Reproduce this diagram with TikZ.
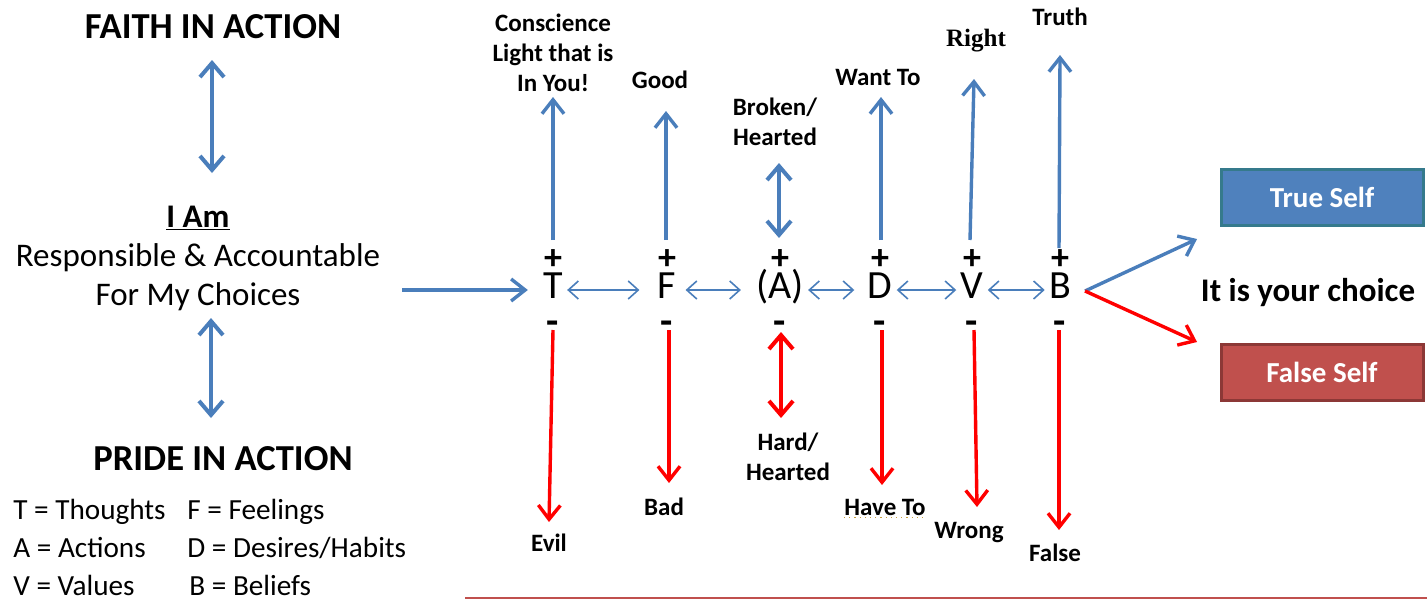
\documentclass[tikz,border=0pt]{standalone}
\usepackage{fontspec}
\setmainfont{Carlito}
\newfontfamily\rightfont{Liberation Serif}
\usepackage{tikz}
\usetikzlibrary{arrows.meta}
\definecolor{arrblue}{HTML}{4A7EBB}
\definecolor{selfblue}{HTML}{4F81BD}
\definecolor{selfblueedge}{HTML}{357A8C}
\definecolor{selfred}{HTML}{C0504D}
\definecolor{selfrededge}{HTML}{8C3836}
\definecolor{squiggle}{HTML}{C8A040}

\begin{document}
\begin{tikzpicture}[x=0.5pt,y=-0.5pt,
	upblue/.style={draw=arrblue, line width=1.7pt, -{Straight Barb[length=7pt,width=11pt]}},
	downred/.style={draw=red, line width=1.7pt, -{Straight Barb[length=7pt,width=11pt]}},
	twoway/.style={line width=2pt, {Straight Barb[length=7pt,width=12pt]}-{Straight Barb[length=7pt,width=12pt]}},
	link/.style={draw=arrblue, line width=0.8pt, {Straight Barb[length=5pt,width=9pt]}-{Straight Barb[length=5pt,width=9pt]}},
	word/.style={font=\bfseries\fontsize{12.5}{15}\selectfont, inner sep=0pt, align=center},
	heading/.style={font=\bfseries\fontsize{18.3}{22}\selectfont, inner sep=0pt},
	letter/.style={font=\fontsize{20}{24}\selectfont, text height=8pt, text depth=0pt, inner xsep=2pt, inner ysep=0pt},
	possign/.style={font=\bfseries\fontsize{18}{20}\selectfont, inner sep=0pt, anchor=base},
	negsign/.style={font=\bfseries\fontsize{20}{22}\selectfont, inner sep=0pt, anchor=base},
	legend/.style={font=\fontsize{14.6}{18}\selectfont, inner sep=0pt, anchor=base west},
	selfbox/.style={minimum width=101pt, minimum height=28pt, line width=1.5pt, text=white, font=\bfseries\fontsize{14.5}{17}\selectfont}]
	\useasboundingbox (0,0) rectangle (1427,600);
	% left column
	\node[heading] (faith) at (213,27) {FAITH IN ACTION};
	\node[font=\fontsize{16.5}{19.5}\selectfont, align=center, inner sep=0pt] (iam) at (198,258) {\underline{\textbf{I Am}}\\Responsible \& Accountable\\For My Choices};
	\node[heading] (pride) at (223,459) {PRIDE IN ACTION};
	\coordinate (F0) at (212,60);
	\coordinate (F1) at (212,173);
	\coordinate (P0) at (211,318);
	\coordinate (P1) at (211,418);
	\draw[twoway, arrblue] (F0) -- (F1);
	\draw[twoway, arrblue] (P0) -- (P1);
	\node[legend] (lgT) at (13,519) {T = Thoughts};
	\node[legend] (lgF) at (187,519) {F = Feelings};
	\node[legend] (lgA) at (13,557) {A = Actions};
	\node[legend] (lgD) at (187,557) {D = Desires/Habits};
	\node[legend] (lgV) at (13,595) {V = Values};
	\node[legend] (lgB) at (189,595) {B = Beliefs};
	% the row of letters
	\node[letter] (T) at (553,290) {T};
	\node[letter] (F) at (667,290) {F};
	\node[letter] (A) at (780,290) {(A)};
	\node[letter] (D) at (880,290) {D};
	\node[letter] (V) at (972,290) {V};
	\node[letter] (B) at (1060,290) {B};
	\node[possign] (pT) at (553,269) {+};
	\node[possign] (pF) at (667,269) {+};
	\node[possign] (pA) at (780,269) {+};
	\node[possign] (pD) at (880,269) {+};
	\node[possign] (pV) at (972,269) {+};
	\node[possign] (pB) at (1060,269) {+};
	\node[negsign] (mT) at (553,334) {-};
	\node[negsign] (mF) at (667,334) {-};
	\node[negsign] (mA) at (780,334) {-};
	\node[negsign] (mD) at (880,334) {-};
	\node[negsign] (mV) at (972,334) {-};
	\node[negsign] (mB) at (1060,334) {-};
	\coordinate (in0) at (402,290);
	\draw[upblue, shorten >=5.5pt] (in0) -- (T);
	\draw[link, shorten >=7pt] (T) -- (F);
	\draw[link, shorten <=2.5pt, shorten >=5.5pt] (F) -- (A);
	\draw[link, shorten >=4.5pt] (A) -- (D);
	\draw[link] (D) -- (V);
	\draw[link] (V) -- (B);
	% upper words
	\node[word] (cT) at (553,53) {Conscience\\Light that is\\In You!};
	\node[word, anchor=base] (cF) at (660,88) {Good};
	\node[word] (cA) at (775,122) {Broken/\\Hearted};
	\node[word, anchor=base] (cD) at (878,85) {Want To};
	\node[word, anchor=base, font=\rightfont\bfseries\fontsize{12.5}{15}\selectfont] (cV) at (976,46) {Right};
	\node[word, anchor=base] (cB) at (1060,25) {Truth};
	\coordinate (Tup0) at (553,240);
	\coordinate (Tup1) at (553,97);
	\coordinate (Fup0) at (666,240);
	\coordinate (Fup1) at (666,111);
	\coordinate (Aup0) at (779,238);
	\coordinate (Aup1) at (779,163);
	\coordinate (Dup0) at (881,240);
	\coordinate (Dup1) at (881,97);
	\coordinate (Vup0) at (970,240);
	\coordinate (Vup1) at (974,79);
	\coordinate (Bup0) at (1059,248);
	\coordinate (Bup1) at (1060,55);
	\draw[upblue] (Tup0) -- (Tup1);
	\draw[upblue] (Fup0) -- (Fup1);
	\draw[twoway, arrblue] (Aup0) -- (Aup1);
	\draw[upblue] (Dup0) -- (Dup1);
	\draw[upblue] (Vup0) -- (Vup1);
	\draw[upblue] (Bup0) -- (Bup1);
	% lower words
	\node[word, anchor=base] (eT) at (549,551) {Evil};
	\node[word, anchor=base] (eF) at (664,515) {Bad};
	\node[word] (eA) at (788,457) {Hard/\\Hearted};
	\node[word, anchor=base] (eD) at (885,515) {Have To};
	\node[word, anchor=base] (eV) at (969,538) {Wrong};
	\node[word, anchor=base] (eB) at (1055,561) {False};
	\draw[squiggle, dotted, line width=0.6pt] ([yshift=-1pt]eD.south west) -- ([yshift=-1pt]eD.south east);
	\coordinate (Tdn0) at (553,330);
	\coordinate (Tdn1) at (549,522);
	\coordinate (Fdn0) at (669,330);
	\coordinate (Fdn1) at (669,483);
	\coordinate (Adn0) at (781,332);
	\coordinate (Adn1) at (781,418);
	\coordinate (Ddn0) at (882,330);
	\coordinate (Ddn1) at (882,485);
	\coordinate (Vdn0) at (974,330);
	\coordinate (Vdn1) at (977,507);
	\coordinate (Bdn0) at (1059,330);
	\coordinate (Bdn1) at (1059,530);
	\draw[downred] (Tdn0) -- (Tdn1);
	\draw[downred] (Fdn0) -- (Fdn1);
	\draw[twoway, red] (Adn0) -- (Adn1);
	\draw[downred] (Ddn0) -- (Ddn1);
	\draw[downred] (Vdn0) -- (Vdn1);
	\draw[downred] (Bdn0) -- (Bdn1);
	% the choice
	\coordinate (fork) at (1085,291);
	\coordinate (toTrue) at (1197,239);
	\coordinate (toFalse) at (1197,342);
	\draw[upblue] (fork) -- (toTrue);
	\draw[downred] (fork) -- (toFalse);
	\node[selfbox, fill=selfblue, draw=selfblueedge] (trueS) at (1322,197) {True Self};
	\node[selfbox, fill=selfred, draw=selfrededge] (falseS) at (1322,372) {False Self};
	\node[font=\bfseries\fontsize{16.5}{20}\selectfont, inner sep=0pt] (choice) at (1308,293) {It is your choice};
	\draw[selfred, line width=1pt] (465,598) -- (1427,598);
\end{tikzpicture}
\end{document}
